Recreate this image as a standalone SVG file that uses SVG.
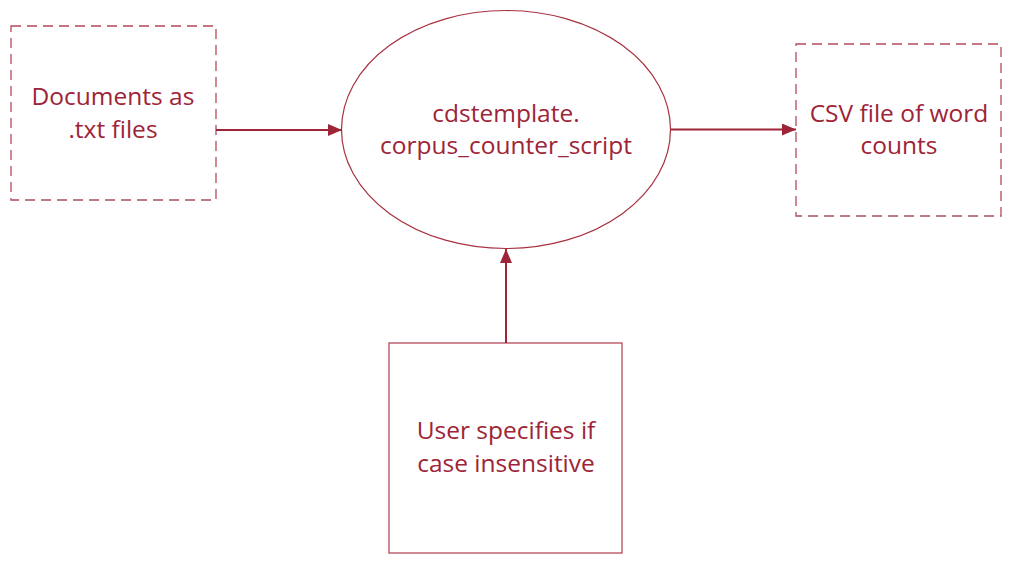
<svg xmlns="http://www.w3.org/2000/svg" width="1019" height="564" viewBox="0 0 1019 564">
<style>
.box{fill:#fff;stroke:#B44A5B;stroke-width:1.3}
.dash{stroke-dasharray:10 6}
.ell{fill:#fff;stroke:#A8303F;stroke-width:1.2}
.lbl{font-family:"Open Sans","Liberation Sans",sans-serif;font-size:24.5px;fill:#9E2437;text-anchor:middle}
.con{stroke:#9E2437;stroke-width:2;fill:none}
</style>
<defs>
<marker id="ah" viewBox="0 0 14 12" refX="14" refY="6" markerWidth="14" markerHeight="12" markerUnits="userSpaceOnUse" orient="auto">
<path d="M0,0 L14,6 L0,12 Z" fill="#9E2437"/>
</marker>
</defs>
<rect width="1019" height="564" fill="#fff"/>
<g id="docs">
<rect class="box dash" x="11" y="26" width="205" height="174"/>
<text class="lbl" x="113" y="105">Documents as</text>
<text class="lbl" x="113" y="138">.txt files</text>
</g>
<g id="script">
<ellipse class="ell" cx="506" cy="129.5" rx="164.5" ry="119"/>
<text class="lbl" x="506" y="122">cdstemplate.</text>
<text class="lbl" x="506" y="154">corpus_counter_script</text>
</g>
<g id="csv">
<rect class="box dash" x="796" y="44" width="205" height="172"/>
<text class="lbl" x="899" y="122">CSV file of word</text>
<text class="lbl" x="899" y="154">counts</text>
</g>
<g id="user">
<rect class="box" x="389" y="343" width="233" height="210"/>
<text class="lbl" x="506" y="439">User specifies if</text>
<text class="lbl" x="506" y="472">case insensitive</text>
</g>
<g id="connectors">
<line class="con" x1="216" y1="130" x2="342" y2="130" marker-end="url(#ah)"/>
<line class="con" x1="671" y1="129.5" x2="796" y2="129.5" marker-end="url(#ah)"/>
<line class="con" x1="506" y1="343" x2="506" y2="249" marker-end="url(#ah)"/>
</g>
</svg>
